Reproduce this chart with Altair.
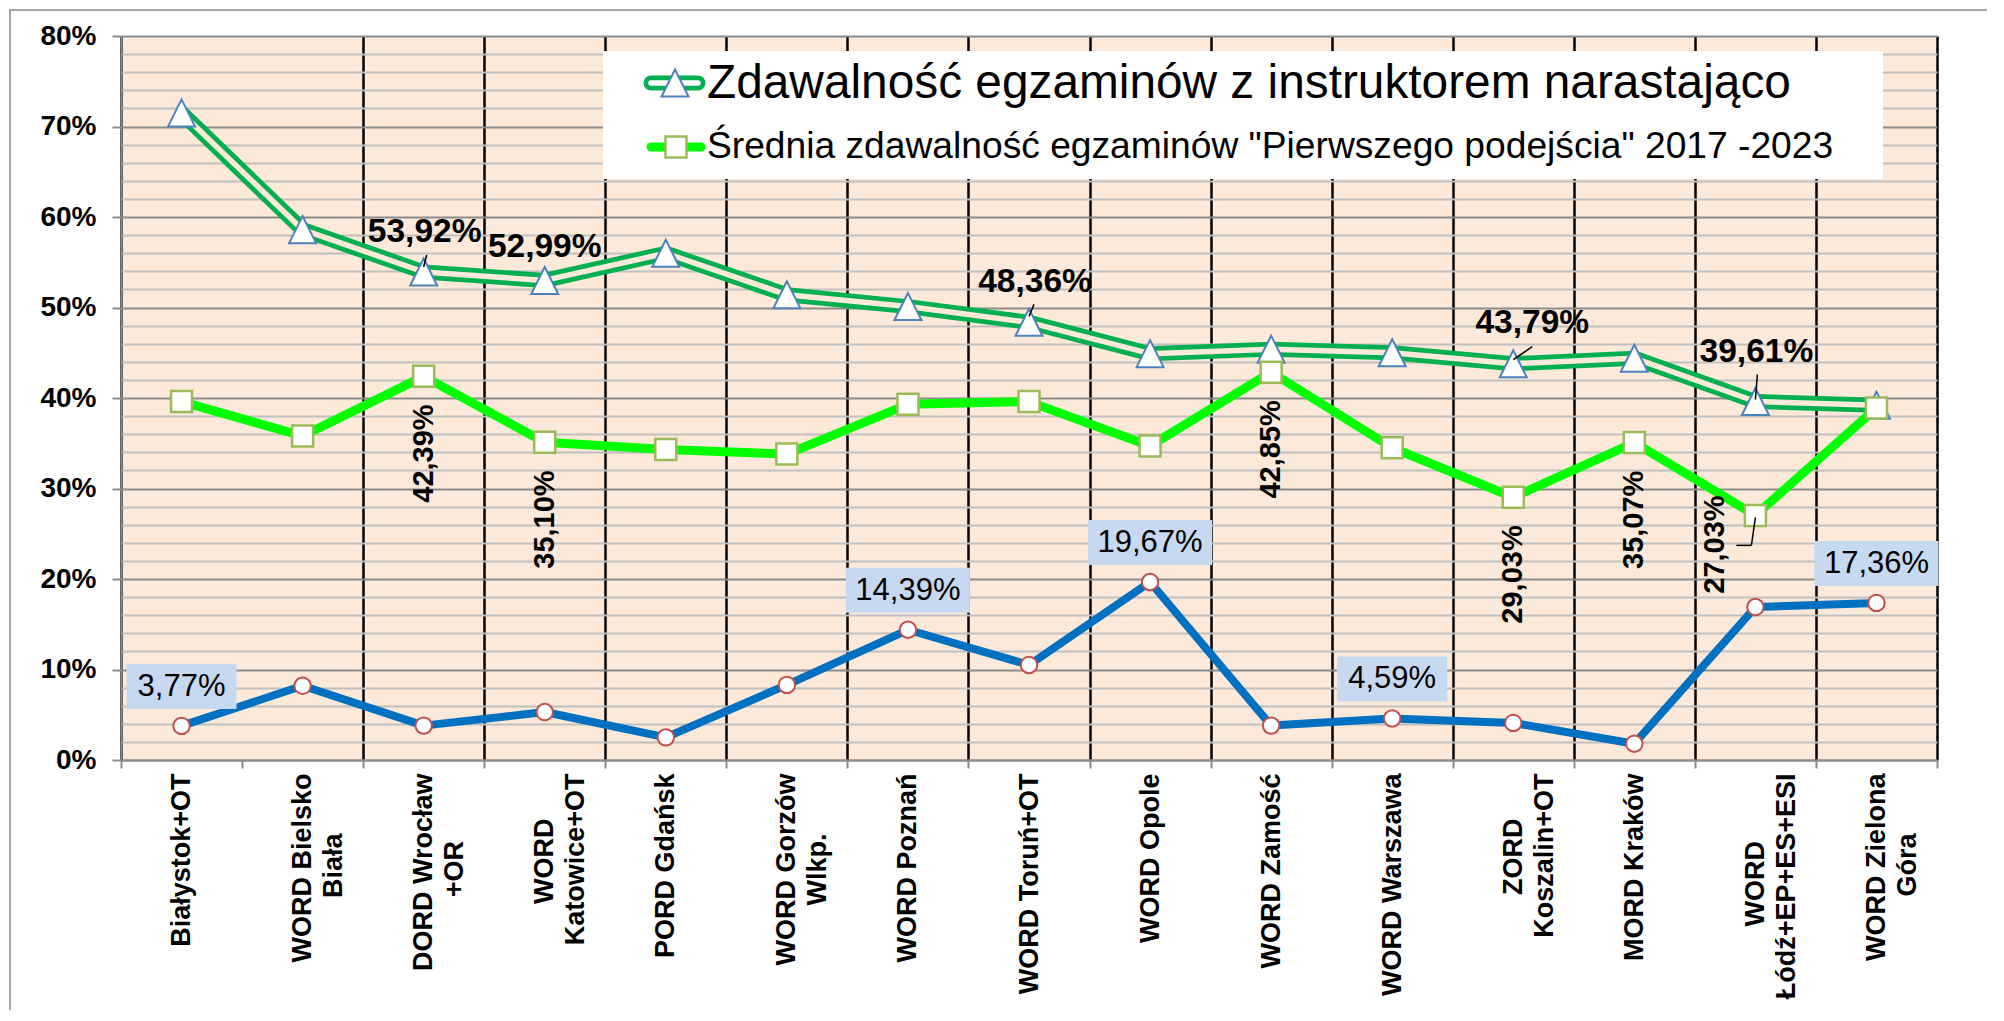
import json
import altair as alt
import pandas as pd

# ---------------- data ----------------
CATEGORIES = [
    "Białystok+OT",
    "WORD Bielsko\nBiała",
    "DORD Wrocław\n+OR",
    "WORD\nKatowice+OT",
    "PORD Gdańsk",
    "WORD Gorzów\nWlkp.",
    "WORD Poznań",
    "WORD Toruń+OT",
    "WORD Opole",
    "WORD Zamość",
    "WORD Warszawa",
    "ZORD\nKoszalin+OT",
    "MORD Kraków",
    "WORD\nŁódź+EP+ES+ESI",
    "WORD Zielona\nGóra",
]

INSTRUKTOR = [71.5, 58.6, 53.92, 52.99, 56.0, 51.4, 50.1, 48.36, 44.9, 45.4, 45.0, 43.79, 44.4, 39.61, 39.2]
PIERWSZE = [39.6, 35.8, 42.39, 35.10, 34.3, 33.8, 39.3, 39.6, 34.7, 42.85, 34.5, 29.03, 35.07, 27.03, 38.9]
TRZECIA = [3.77, 8.2, 3.8, 5.3, 2.5, 8.3, 14.39, 10.5, 19.67, 3.8, 4.59, 4.1, 1.8, 16.9, 17.36]

LABELLED_INSTRUKTOR = [2, 3, 7, 11, 13]
LABELLED_PIERWSZE = [2, 3, 9, 11, 12, 13]
LABELLED_TRZECIA = [0, 6, 8, 10, 14]

LEGEND_NAMES = [
    "Zdawalność egzaminów z instruktorem narastająco",
    'Średnia zdawalność egzaminów "Pierwszego podejścia" 2017 -2023',
]

Y_TICKS = [0, 2, 4, 6, 8, 10, 12, 14, 16, 18, 20, 22, 24, 26, 28, 30, 32, 34, 36, 38, 40,
           42, 44, 46, 48, 50, 52, 54, 56, 58, 60, 62, 64, 66, 68, 70, 72, 74, 76, 78, 80]

# ---------------- helpers ----------------
FONT = "Liberation Sans"
PEACH = "#FDE9D9"
W, H = 1816, 724
NBSP = "\u00a0"
ZWSP = "\u200b"   # keeps the padding from being trimmed

# Arial/Liberation Sans Bold advance widths (1/1000 em) used to centre the
# shorter line of two-line category labels under the longer one.
BOLD_W = {
    "W": 944, "O": 778, "R": 722, "D": 722, " ": 278, "B": 722, "i": 278, "e": 556,
    "l": 278, "s": 556, "k": 556, "o": 611, "r": 389, "c": 556, "ł": 278, "a": 556,
    "w": 778, "+": 584, "K": 722, "t": 333, "n": 611, "G": 778, "z": 500, "ó": 611,
    "Ł": 611, "d": 611, "ź": 500, "E": 667, "P": 667, "S": 667, "I": 278, "Z": 611,
    "p": 611, ".": 278,
}


def text_w(s):
    return sum(BOLD_W.get(ch, 600) for ch in s)


def label_lines(cat):
    lines = cat.split("\n")
    longest = max(text_w(s) for s in lines)
    out = []
    for s in lines:
        k = round((longest - text_w(s)) / 2 / 278)
        out.append(s + NBSP * k + (ZWSP if k else ""))
    return out


LABEL_LOOKUP = json.dumps({c: label_lines(c) for c in CATEGORIES}, ensure_ascii=False)


def pl(v):
    return f"{v:.2f}".replace(".", ",") + "%"


def frame(values, idx=None):
    rows = []
    for i, (c, v) in enumerate(zip(CATEGORIES, values)):
        if idx is None or i in idx:
            rows.append({"cat": c, "v": v, "lbl": pl(v)})
    return pd.DataFrame(rows)


df1 = frame(INSTRUKTOR)
df2 = frame(PIERWSZE)
df3 = frame(TRZECIA)

x_axis = alt.Axis(
    title=None,
    labelAngle=270,
    labelAlign="right",
    labelBaseline="middle",
    labelExpr=f"datum.value ? ({LABEL_LOOKUP})[datum.value] : ''",
    labelFont=FONT,
    labelFontSize=27,
    labelFontWeight="bold",
    labelColor="black",
    labelPadding=5,
    labelLimit=500,
    labelLineHeight=31,
    labelOverlap=False,
    tickSize=8,
    tickWidth=2,
    tickColor="#8C8C8C",
    tickBand="extent",
    domainColor="#8C8C8C",
    domainWidth=2,
    grid=True,
    gridWidth=2.5,
    gridColor={"condition": {"test": f"datum.value === '{CATEGORIES[0]}'", "value": "transparent"},
               "value": "black"},
)

y_axis = alt.Axis(
    title=None,
    values=Y_TICKS,
    labelExpr="datum.value % 10 === 0 ? datum.value + '%' : ''",
    labelFont=FONT,
    labelFontSize=28,
    labelFontWeight="bold",
    labelColor="black",
    labelPadding=16,
    labelOverlap=False,
    tickSize=9,
    tickWidth=2,
    tickColor={"condition": {"test": "datum.value % 10 === 0", "value": "#8C8C8C"},
               "value": "transparent"},
    domainColor="#8C8C8C",
    domainWidth=2,
    grid=True,
    gridWidth=2,
    gridColor={"condition": {"test": "datum.value % 10 === 0", "value": "#8C8C8C"},
               "value": "#C0C0C0"},
)

X = alt.X("cat:N", sort=CATEGORIES,
          scale=alt.Scale(type="band", paddingInner=0, paddingOuter=0), axis=x_axis)
X2 = alt.X2("cat:N")
Y = alt.Y("v:Q", scale=alt.Scale(domain=[0, 80], nice=False), axis=y_axis)
Y2 = alt.Y2("v:Q")

# ---------------- series 1 (double line + triangles) ----------------
TRI = "M0,-1L1,1L-1,1Z"
s1_outer = alt.Chart(df1).mark_line(color="#00B050", strokeWidth=15, strokeJoin="round").encode(x=X, y=Y)
s1_inner = alt.Chart(df1).mark_line(color=PEACH, strokeWidth=5.5, strokeJoin="round").encode(x=X, y=Y)
s1_pts = alt.Chart(df1).mark_point(shape=TRI, size=729, filled=True, fill="white",
                                   stroke="#4F81BD", strokeWidth=2, opacity=1).encode(x=X, y=Y)

# ---------------- series 2 (bright green + squares) ----------------
s2_line = alt.Chart(df2).mark_line(color="#00FF00", strokeWidth=9, strokeJoin="round").encode(x=X, y=Y)
s2_pts = alt.Chart(df2).mark_point(shape="square", size=441, filled=True, fill="white",
                                   stroke="#9BBB59", strokeWidth=2.5, opacity=1).encode(x=X, y=Y)

# ---------------- series 3 (blue + circles) ----------------
s3_line = alt.Chart(df3).mark_line(color="#0070C0", strokeWidth=8, strokeJoin="round").encode(x=X, y=Y)
s3_pts = alt.Chart(df3).mark_point(shape="circle", size=270, filled=True, fill="white",
                                   stroke="#C0504D", strokeWidth=2, opacity=1).encode(x=X, y=Y)


# ---------------- data labels ----------------
def lab1(i, dx, dy):
    return alt.Chart(frame(INSTRUKTOR, [LABELLED_INSTRUKTOR[i]])).mark_text(
        font=FONT, fontSize=33.5, fontWeight="bold", color="black", align="center",
        baseline="alphabetic", dx=dx, dy=dy).encode(x=X, y=Y, text="lbl:N")


def lab2(i, dx, dy):
    return alt.Chart(frame(PIERWSZE, [LABELLED_PIERWSZE[i]])).mark_text(
        font=FONT, fontSize=29, fontWeight="bold", color="black", angle=270, align="right",
        baseline="middle", dx=dx, dy=dy).encode(x=X, y=Y, text="lbl:N")


def leader(values, i, x0, y0, x1, y1):
    return alt.Chart(frame(values, [i])).mark_rule(
        color="black", strokeWidth=1.5, xOffset=x0, yOffset=y0, x2Offset=x1, y2Offset=y1
    ).encode(x=X, x2=X2, y=Y, y2=Y2)


labels1 = [lab1(0, 1, -30), lab1(1, 0, -23), lab1(2, 6, -30), lab1(3, 19, -31), lab1(4, 1, -40)]
labels2 = [lab2(0, -28, 0), lab2(1, -28, 0), lab2(2, -28, 0), lab2(3, -28, 0), lab2(4, -28, 0),
           lab2(5, 20, -40)]
leaders = [
    leader(INSTRUKTOR, 2, 3, -17, 0, -5),
    leader(INSTRUKTOR, 7, 5, -18, 0, -6),
    leader(INSTRUKTOR, 11, 19, -17, 0, -4),
    leader(INSTRUKTOR, 13, 2, -27, 0, -2),
    leader(PIERWSZE, 13, 0, 2, -4, 30),
    leader(PIERWSZE, 13, -4, 30, -19, 30),
]

BOX5 = "M-1,-0.41L1,-0.41L1,0.41L-1,0.41Z"
BOX6 = "M-1,-0.363L1,-0.363L1,0.363L-1,0.363Z"
lab3_box = alt.Chart(frame(TRZECIA, LABELLED_TRZECIA)).transform_calculate(
    bs="pow(length(datum.lbl) * 14 + 40, 2)",
    shp=f"length(datum.lbl) > 5 ? '{BOX6}' : '{BOX5}'",
).mark_point(filled=True, fill="#C6D9F1", strokeWidth=0, opacity=1, yOffset=-39.5).encode(
    x=X, y=Y,
    size=alt.Size("bs:Q", scale=None, legend=None),
    shape=alt.Shape("shp:N", scale=None, legend=None),
)
lab3_txt = alt.Chart(frame(TRZECIA, LABELLED_TRZECIA)).mark_text(
    font=FONT, fontSize=31, color="black", align="center", baseline="middle", dy=-39
).encode(x=X, y=Y, text="lbl:N")

# ---------------- legend (decoration) ----------------
one = pd.DataFrame({"t": [""]})
leg_box = alt.Chart(one).mark_rect(fill="white").encode(
    x=alt.value(482), x2=alt.value(1762), y=alt.value(15), y2=alt.value(143))
leg1_outer = alt.Chart(one).mark_rule(color="#00B050", strokeWidth=15, strokeCap="round").encode(
    x=alt.value(530), x2=alt.value(577), y=alt.value(47))
leg1_inner = alt.Chart(one).mark_rule(color="white", strokeWidth=5.5, strokeCap="round").encode(
    x=alt.value(530), x2=alt.value(577), y=alt.value(47))
leg1_sym = alt.Chart(one).mark_point(shape=TRI, size=729, filled=True, fill="white",
                                     stroke="#4F81BD", strokeWidth=2, opacity=1).encode(
    x=alt.value(554), y=alt.value(47))
leg1_txt = alt.Chart(pd.DataFrame({"t": [LEGEND_NAMES[0]]})).mark_text(
    font=FONT, fontSize=47.8, color="black", align="left", baseline="alphabetic").encode(
    x=alt.value(586), y=alt.value(62), text="t:N")
leg2_line = alt.Chart(one).mark_rule(color="#00FF00", strokeWidth=9, strokeCap="round").encode(
    x=alt.value(530), x2=alt.value(580), y=alt.value(111))
leg2_sym = alt.Chart(one).mark_point(shape="square", size=441, filled=True, fill="white",
                                     stroke="#9BBB59", strokeWidth=2.5, opacity=1).encode(
    x=alt.value(555), y=alt.value(111))
leg2_txt = alt.Chart(pd.DataFrame({"t": [LEGEND_NAMES[1]]})).mark_text(
    font=FONT, fontSize=37.2, color="black", align="left", baseline="alphabetic").encode(
    x=alt.value(586), y=alt.value(122), text="t:N")

border = alt.Chart(one).mark_rect(fill="transparent", stroke="#A6A6A6", strokeWidth=2).encode(
    x=alt.value(-111), x2=alt.value(2100), y=alt.value(-26), y2=alt.value(1200))

chart = alt.layer(
    s1_outer, s1_inner, s1_pts,
    s2_line, s2_pts,
    s3_line, s3_pts,
    *leaders,
    *labels1, *labels2, lab3_box, lab3_txt,
    leg_box, leg1_outer, leg1_inner, leg1_sym, leg1_txt, leg2_line, leg2_sym, leg2_txt,
    border,
).properties(
    width=W, height=H,
    autosize=alt.AutoSizeParams(type="none"),
    padding={"left": 113, "top": 28, "right": 50, "bottom": 250},
    background="white",
).configure_view(fill=PEACH, stroke="transparent")

chart.save("out.html", embed_options={"renderer": "svg", "actions": False})
